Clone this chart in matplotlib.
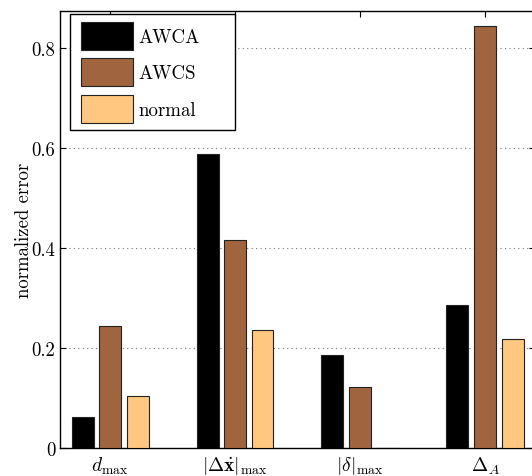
import matplotlib
matplotlib.use("Agg")
import matplotlib.pyplot as plt
from matplotlib.patches import Rectangle
import numpy as np

categories = [r"$d_{\max}$", r"$|\Delta\dot{\mathbf{x}}|_{\max}$", r"$|\delta|_{\max}$", r"$\Delta_A$"]
series_names = ["AWCA", "AWCS", "normal"]
awca = [0.063, 0.588, 0.186, 0.286]
awcs = [0.245, 0.416, 0.123, 0.845]
normal = [0.105, 0.237, 0.001, 0.219]
colors = ["#000000", "#A0643F", "#FFC77F"]

plt.rcParams["font.family"] = "cmr10"
plt.rcParams["mathtext.fontset"] = "cm"
plt.rcParams["axes.formatter.use_mathtext"] = True

W, H = 532, 477
fig = plt.figure(figsize=(W/100, H/100), dpi=100)
ax = fig.add_axes([60/W, 28/H, 475/W, 437/H])

x = np.arange(1, len(categories) + 1)
offsets = [-0.22, 0.0, 0.22]
width = 0.176
for vals, off, c, name in zip([awca, awcs, normal], offsets, colors, series_names):
    ax.bar(x + off, vals, width=width, color=c, edgecolor="#222222", linewidth=0.8, label=name, zorder=3)

ax.set_xlim(0.6, 4.4)
ax.set_ylim(0, 0.874)
ax.set_xticks(x)
ax.set_xticklabels(categories, fontsize=14)
ax.set_yticks([0, 0.2, 0.4, 0.6, 0.8])
ax.set_yticklabels(["0", "0.2", "0.4", "0.6", "0.8"], fontsize=13.5)
ax.tick_params(direction="in", top=True, right=True, length=4, width=0.8)
ax.tick_params(axis="x", pad=4.5)
ax.yaxis.grid(True, linestyle=(0, (1, 3)), color="#777777", linewidth=0.8, zorder=0)
ax.set_ylabel("normalized error", fontsize=13.5)
ax.yaxis.set_label_coords(-27/475, 0.5)
for s in ax.spines.values():
    s.set_linewidth(1.0)

# legend box (MATLAB-style, wider than its content)
ax.add_patch(Rectangle((70/W, (H-131)/H), 165/W, 116/H, transform=fig.transFigure,
                       facecolor="white", edgecolor="black", linewidth=1.0, zorder=5, clip_on=False))
leg = ax.legend(loc="upper left", bbox_to_anchor=(81/W, (H-23)/H), bbox_transform=fig.transFigure,
                fontsize=13.6, frameon=False, borderaxespad=0, borderpad=0,
                handlelength=2.75, handleheight=1.9, handletextpad=0.27, labelspacing=0.45)
leg.set_zorder(6)

fig.savefig("out.png", dpi=100)
